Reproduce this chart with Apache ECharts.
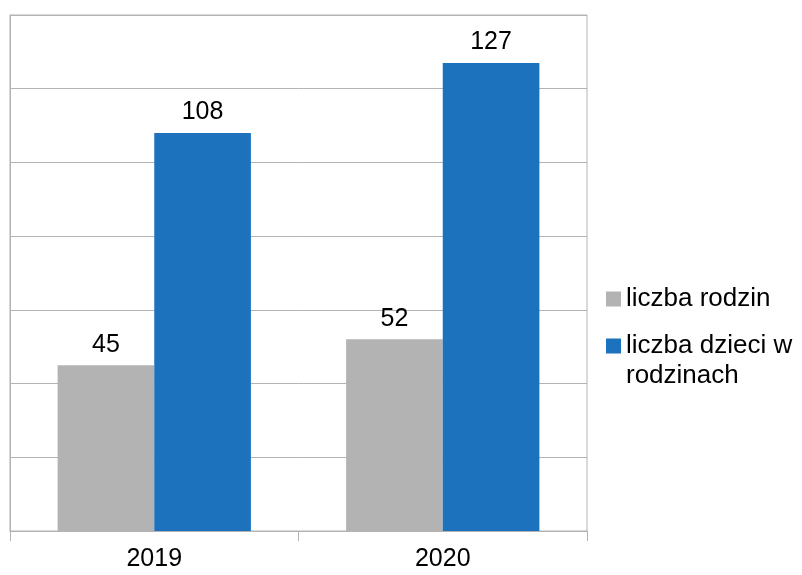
<!DOCTYPE html>
<html>
<head>
<meta charset="utf-8">
<script src="https://cdn.jsdelivr.net/npm/echarts@6/dist/echarts.min.js"></script>
<style>
  html, body { margin: 0; padding: 0; background: #fff; }
  #chart { width: 802px; height: 575px; }
</style>
</head>
<body>
<div id="chart"></div>
<script>
var years = ['2019', '2020']
var rodziny = [45, 52]
var dzieci = [108, 127]
var seriesNames = ['liczba rodzin', 'liczba dzieci w rodzinach']

var chart = echarts.init(document.getElementById('chart'))
var font = 'Liberation Sans, Arial, sans-serif'
var option = {
  animation: false,
  color: ['#b3b3b3', '#1c72bd'],
  grid: {
    left: 10, right: 215, top: 15, bottom: 44,
    show: true, borderColor: '#b3b3b3', borderWidth: 1
  },
  legend: {
    orient: 'vertical',
    left: 606,
    top: 284,
    padding: 0,
    itemWidth: 15,
    itemHeight: 15,
    itemGap: -13,
    icon: 'rect',
    textStyle: {
      fontFamily: font, fontSize: 26, color: '#000', lineHeight: 30,
      rich: {
        p: { fontSize: 26, lineHeight: 30 },
        t: { fontFamily: font, fontSize: 26, color: '#000', lineHeight: 30 }
      }
    },
    // second entry wraps; blank first line keeps the icon level with "liczba dzieci w"
    formatter: function (name) {
      if (name === seriesNames[1]) return '{p| }\n{t|liczba dzieci w}\n{t|rodzinach}'
      return name
    },
    data: seriesNames
  },
  xAxis: {
    type: 'category',
    data: years,
    axisLine: { lineStyle: { color: '#b3b3b3' } },
    axisTick: { show: true, length: 10, lineStyle: { color: '#b3b3b3' } },
    axisLabel: { fontFamily: font, fontSize: 25, color: '#000', margin: 16 }
  },
  yAxis: {
    type: 'value',
    min: 0, max: 140, interval: 20,
    axisLabel: { show: false },
    axisLine: { show: true, lineStyle: { color: '#b3b3b3' } },
    splitLine: { lineStyle: { color: '#b3b3b3' } }
  },
  series: [
    {
      name: seriesNames[0], type: 'bar', data: rodziny,
      barGap: 0, barCategoryGap: '33%',
      label: { show: true, position: 'top', distance: 8, fontFamily: font, fontSize: 25, color: '#000' }
    },
    {
      name: seriesNames[1], type: 'bar', data: dzieci,
      barGap: 0, barCategoryGap: '33%',
      label: { show: true, position: 'top', distance: 8, fontFamily: font, fontSize: 25, color: '#000' }
    }
  ]
}
chart.setOption(option)
</script>
</body>
</html>
